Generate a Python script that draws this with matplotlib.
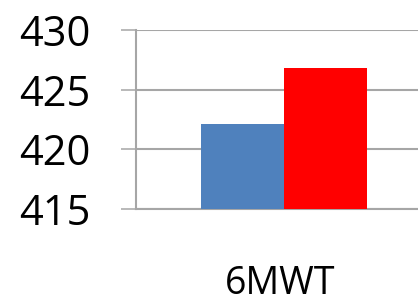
import matplotlib
matplotlib.use("Agg")
import matplotlib.pyplot as plt

category = "6MWT"
values = [422.1, 426.8]
colors = ["#4F81BD", "#FF0000"]
yticks = [415, 420, 425, 430]

plt.rcParams['font.family'] = ['Open Sans', 'DejaVu Sans']

fig = plt.figure(figsize=[4.18, 3.02], dpi=100)
ax = fig.add_axes([136/418, 1 - 209/302, 296/418, 179/302])

w = 0.281
ax.bar([-w/2, w/2], [v - 415 for v in values], bottom=415, width=w,
       color=colors, zorder=3)

ax.set_xlim(-0.5, 0.5)
ax.set_ylim(415, 430)
ax.set_yticks(yticks)
ax.set_yticklabels([str(t) for t in yticks], fontsize=30)
ax.set_xticks([])
ax.yaxis.grid(True, color="#a6a6a6", linewidth=1.5, zorder=0)
for s in ["top", "right"]:
    ax.spines[s].set_visible(False)
ax.spines["left"].set_color("#a6a6a6")
ax.spines["left"].set_linewidth(1.5)
ax.spines["bottom"].set_color("#a6a6a6")
ax.spines["bottom"].set_linewidth(1.5)
ax.tick_params(axis="y", length=11, width=1.1, color="#a6a6a6", pad=22)

fig.text(280/418, 1 - 284/302, category, fontsize=27, ha="center", va="center")

fig.savefig("out.png", dpi=100)
